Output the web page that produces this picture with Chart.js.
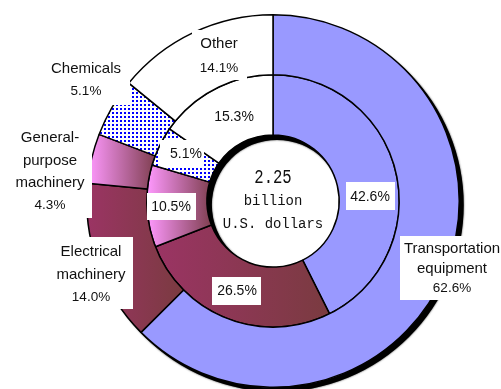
<!DOCTYPE html>
<html>
<head>
<meta charset="utf-8">
<script src="https://cdn.jsdelivr.net/npm/chart.js@4"></script>
<style>
  html, body { margin: 0; padding: 0; background: #fff; }
  #wrap { width: 501px; height: 389px; }
</style>
</head>
<body>
<div id="wrap"><canvas id="pie"></canvas></div>
<script>
// data (shares in %)
const categories = ['Transportation equipment', 'Electrical machinery', 'General-purpose machinery', 'Chemicals', 'Other'];
const outerShares = [62.6, 14.0, 4.3, 5.1, 14.1];
const innerShares = [42.6, 26.5, 10.5, 5.1, 15.3];
const outerNames = [['Transportation', 'equipment'], ['Electrical', 'machinery'], ['General-', 'purpose', 'machinery'], ['Chemicals'], ['Other']];
const totalText = ['2.25', 'billion', 'U.S. dollars'];

// where the labels sit (x, line y's, white box)
const outerPos = [
    { x: 452, y: [249, 269, 288], box: [400, 236, 501, 300] },
    { x: 91, y: [252, 275, 297], box: [50, 237, 133, 309] },
    { x: 50, y: [138, 161, 183, 205], box: [8, 125, 92, 218] },
    { x: 86, y: [69, 91], box: [38, 52, 130, 105] },
    { x: 219, y: [44, 68], box: [192, 30, 247, 80] }
];
const innerPos = [
    { x: 370, y: 197, box: [346, 182, 395, 210] },
    { x: 237, y: 291, box: [212, 277, 261, 305] },
    { x: 171, y: 207, box: [147, 193, 196, 220] },
    { x: 186, y: 154, box: [160, 140, 204, 166] },
    { x: 234, y: 117, box: null }
];

// blue dot pattern for chemicals
function dots() {
    const c = document.createElement('canvas');
    c.width = 4; c.height = 4;
    const g = c.getContext('2d');
    g.fillStyle = '#fff';
    g.fillRect(0, 0, 4, 4);
    g.fillStyle = '#0000ff';
    g.fillRect(0, 0, 2, 2);
    return g.createPattern(c, 'repeat');
}
const dotFill = dots();
const fills = ['#9999ff', '#993366', '#ff99ff', dotFill, '#ffffff'];
const gradStops = { 1: ['#9b3464', '#7a3b40'], 2: ['#ff99ff', '#7f3f50'] };

// horizontal gradients across each segment + drop shadow of the rings
const ringPlugin = {
    id: 'ringPlugin',
    beforeDatasetsDraw(chart) {
        const ctx = chart.ctx;
        const outer = chart.getDatasetMeta(0).data[0];
        const inner = chart.getDatasetMeta(1).data[0];
        ctx.save();
        ctx.fillStyle = '#000';
        ctx.shadowColor = 'rgba(0,0,0,0.8)';
        ctx.shadowBlur = 2;
        ctx.beginPath();
        ctx.arc(outer.x + 4, outer.y + 4, outer.outerRadius + 0.5, 0, Math.PI * 2);
        ctx.arc(outer.x + 4, outer.y + 4, inner.innerRadius - 1, 0, Math.PI * 2, true);
        ctx.fill('evenodd');
        ctx.restore();

        [0, 1].forEach(function (d) {
            chart.getDatasetMeta(d).data.forEach(function (arc, i) {
                if (!gradStops[i]) return;
                let minX = Infinity, maxX = -Infinity;
                for (let k = 0; k <= 60; k++) {
                    const a = arc.startAngle + (arc.endAngle - arc.startAngle) * k / 60;
                    [arc.innerRadius, arc.outerRadius].forEach(function (r) {
                        const x = arc.x + r * Math.cos(a);
                        minX = Math.min(minX, x);
                        maxX = Math.max(maxX, x);
                    });
                }
                const g = ctx.createLinearGradient(minX, 0, maxX, 0);
                g.addColorStop(0, gradStops[i][0]);
                g.addColorStop(1, gradStops[i][1]);
                arc.options = Object.assign({}, arc.options, { backgroundColor: g });
            });
        });
    },
    afterDatasetsDraw(chart) {
        const ctx = chart.ctx;
        const c = chart.getDatasetMeta(0).data[0];
        ctx.save();
        ctx.textAlign = 'center';
        ctx.textBaseline = 'middle';
        ctx.fillStyle = '#fff';

        outerPos.forEach(function (p) {
            const b = p.box;
            ctx.fillRect(b[0], b[1], b[2] - b[0], b[3] - b[1]);
        });
        innerPos.forEach(function (p) {
            if (p.box) ctx.fillRect(p.box[0], p.box[1], p.box[2] - p.box[0], p.box[3] - p.box[1]);
        });

        ctx.fillStyle = '#111';
        outerPos.forEach(function (p, i) {
            const lines = outerNames[i].concat([outerShares[i].toFixed(1) + '%']);
            lines.forEach(function (t, j) {
                const isPct = j == lines.length - 1;
                ctx.font = isPct ? '13.5px "Liberation Sans", Arial, sans-serif' : '15px "Liberation Sans", Arial, sans-serif';
                ctx.fillText(t, p.x, p.y[j]);
            });
        });
        ctx.font = '14px "Liberation Sans", Arial, sans-serif';
        innerPos.forEach(function (p, i) {
            ctx.fillText(innerShares[i].toFixed(1) + '%', p.x, p.y);
        });

        // total in the hole
        const sizes = [20, 15.5, 15.5];
        const squeeze = [0.78, 0.9, 0.9];
        const ys = [178, 201, 224];
        totalText.forEach(function (t, j) {
            ctx.save();
            ctx.translate(c.x, ys[j]);
            ctx.scale(squeeze[j], 1);
            ctx.font = sizes[j] + 'px "Liberation Mono", "DejaVu Sans Mono", monospace';
            ctx.fillText(t, 0, 0);
            ctx.restore();
        });
        ctx.restore();
    }
};

const ctx = document.getElementById('pie').getContext('2d');
new Chart(ctx, {
    type: 'doughnut',
    data: {
        labels: categories,
        datasets: [
            { data: outerShares, backgroundColor: fills, borderColor: '#000', borderWidth: 1.5, hoverOffset: 0 },
            { data: innerShares, backgroundColor: fills, borderColor: '#000', borderWidth: 1.5, hoverOffset: 0 }
        ]
    },
    options: {
        responsive: true,
        maintainAspectRatio: false,
        animation: false,
        cutout: '35.5%',
        layout: { padding: { left: 86, right: 41, top: 14, bottom: 1 } },
        plugins: {
            legend: { display: false },
            tooltip: { enabled: false }
        },
        events: []
    },
    plugins: [ringPlugin]
});
</script>
</body>
</html>
